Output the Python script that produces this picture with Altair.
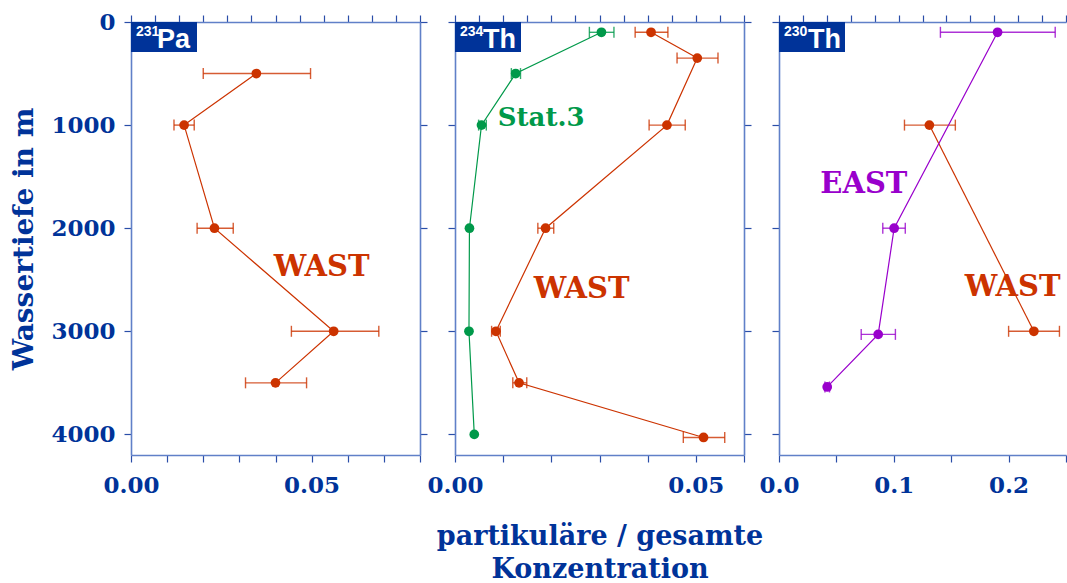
import altair as alt
import pandas as pd

RED = "#cc3300"
GREEN = "#00994a"
PURPLE = "#9900cc"
BLUE = "#003399"
AXLINE = "#6080c8"
TICK = "#2a4ea8"
SERIF = "DejaVu Serif"
SANS = "Liberation Sans"

# ---------------- data ----------------
# 231Pa, WAST
pa_w_depth = [500, 1000, 2000, 3000, 3500]
pa_w_val = [0.0347, 0.0147, 0.0231, 0.0561, 0.0400]
pa_w_lo = [0.0200, 0.0119, 0.0183, 0.0444, 0.0317]
pa_w_hi = [0.0497, 0.0175, 0.0283, 0.0686, 0.0486]

# 234Th, Stat.3
th4_s_depth = [100, 500, 1000, 2000, 3000, 4000]
th4_s_val = [0.0304, 0.0126, 0.0055, 0.0030, 0.0029, 0.0040]
th4_s_lo = [0.0279, 0.0117, 0.0049, None, None, None]
th4_s_hi = [0.0330, 0.0136, 0.0065, None, None, None]

# 234Th, WAST
th4_w_depth = [100, 350, 1000, 2000, 3000, 3500, 4030]
th4_w_val = [0.0407, 0.0503, 0.0440, 0.0188, 0.0085, 0.0133, 0.0516]
th4_w_lo = [0.0374, 0.0461, 0.0403, 0.0172, 0.0076, 0.0120, 0.0474]
th4_w_hi = [0.0442, 0.0546, 0.0478, 0.0205, 0.0094, 0.0149, 0.0560]

# 230Th, EAST
th0_e_depth = [100, 2000, 3030, 3540]
th0_e_val = [0.1904, 0.1003, 0.0864, 0.0420]
th0_e_lo = [0.1406, 0.0904, 0.0716, 0.0400]
th0_e_hi = [0.2406, 0.1100, 0.1014, 0.0440]

# 230Th, WAST
th0_w_depth = [1000, 3000]
th0_w_val = [0.131, 0.222]
th0_w_lo = [0.1093, 0.2000]
th0_w_hi = [0.1536, 0.2443]

depth_ticks = [0, 1000, 2000, 3000, 4000]
x1_ticks = [0.0, 0.01, 0.02, 0.03, 0.04, 0.05, 0.06, 0.07, 0.08]
x2_ticks = [0.0, 0.01, 0.02, 0.03, 0.04, 0.05, 0.06]
x3_ticks = [0.0, 0.05, 0.10, 0.15, 0.20, 0.25]

Y_TITLE = "Wassertiefe in m"
X_TITLE = ["partikuläre / gesamte", "Konzentration"]

PW, PH = 289, 433

yscale = alt.Scale(domain=[0, 4200], reverse=True, nice=False, zero=False)


def sdf(depth, val, lo, hi):
    return pd.DataFrame({"depth": depth, "val": val, "lo": lo, "hi": hi,
                         "idx": list(range(len(depth)))})


def series_layers(df, color, xscale):
    base = alt.Chart(df)
    y = alt.Y("depth:Q", scale=yscale, axis=None)
    line = base.mark_line(color=color, strokeWidth=1.2).encode(
        x=alt.X("val:Q", scale=xscale, axis=None), y=y, order="idx:Q")
    rule = base.mark_rule(color=color, strokeWidth=1.4, opacity=0.8).encode(
        x=alt.X("lo:Q", scale=xscale, axis=None), x2="hi:Q", y=y)
    caps = base.transform_fold(["lo", "hi"], as_=["end", "xe"]).mark_tick(
        color=color, orient="vertical", size=11, thickness=1.4, opacity=0.8
    ).encode(x=alt.X("xe:Q", scale=xscale, axis=None), y=y)
    pts = base.mark_circle(color=color, size=95, opacity=1).encode(
        x=alt.X("val:Q", scale=xscale, axis=None), y=y)
    return [line, rule, caps, pts]


def axis_common():
    return dict(grid=False, domainColor=AXLINE, domainWidth=1.6, tickColor=TICK,
                tickWidth=1.2, tickSize=7, labelFlush=False, labelOverlap=False)


def axis_layers(xscale, xdom, xticks, label_expr, first, last, x_title):
    d = pd.DataFrame({"x": [xdom[0]], "y": [0]})
    top_vals = [xdom[0] + (xdom[1] - xdom[0]) * i / 12 for i in range(13)]
    bottom_kwargs = dict(orient="bottom", values=xticks, labelExpr=label_expr,
                         labelFont=SERIF, labelFontWeight="bold", labelFontSize=23,
                         labelColor=BLUE, labelPadding=12, **axis_common())
    if x_title is not None:
        bottom_kwargs.update(title=x_title, titleFont=SERIF, titleFontWeight="bold",
                             titleFontSize=27, titleColor=BLUE, titlePadding=26,
                             titleLineHeight=33)
    else:
        bottom_kwargs.update(title=None)
    left_kwargs = dict(orient="left", values=depth_ticks, **axis_common())
    if first:
        left_kwargs.update(labels=True, format="d", labelFont=SERIF,
                           labelFontWeight="bold", labelFontSize=23, labelColor=BLUE,
                           labelPadding=9, title=Y_TITLE, titleFont=SERIF,
                           titleFontWeight="bold", titleFontSize=28, titleColor=BLUE,
                           titlePadding=12)
    else:
        left_kwargs.update(labels=False, title=None)
    a = alt.Chart(d).mark_point(opacity=0).encode(
        x=alt.X("x:Q", scale=xscale, axis=alt.Axis(**bottom_kwargs)),
        y=alt.Y("y:Q", scale=yscale, axis=alt.Axis(**left_kwargs)),
    )
    top_axis = alt.Axis(orient="top", values=top_vals, labels=False, title=None,
                        **axis_common())
    if last:
        right_axis = None
    else:
        right_axis = alt.Axis(orient="right", values=depth_ticks, labels=False,
                              title=None, **axis_common())
    b = alt.Chart(d).mark_point(opacity=0).encode(
        x=alt.X("x:Q", scale=xscale, axis=top_axis),
        y=alt.Y("y:Q", scale=yscale, axis=right_axis),
    )
    return [a, b]


def tag_layers(num, sym, sym_x):
    d = pd.DataFrame({"k": [0]})
    box = alt.Chart(d).mark_rect(color=BLUE).encode(
        x=alt.value(0), x2=alt.value(66), y=alt.value(0), y2=alt.value(30))
    t1 = alt.Chart(d).mark_text(text=num, font=SANS, fontWeight="bold", fontSize=14,
                                color="white", align="left", baseline="alphabetic").encode(
        x=alt.value(5), y=alt.value(14))
    t2 = alt.Chart(d).mark_text(text=sym, font=SANS, fontWeight="bold", fontSize=27,
                                color="white", align="left", baseline="alphabetic").encode(
        x=alt.value(sym_x), y=alt.value(26))
    return [box, t1, t2]


def label(text, color, x, y, xscale, size=29):
    d = pd.DataFrame({"k": [0]})
    return alt.Chart(d).mark_text(text=text, font=SERIF, fontWeight="bold",
                                  fontSize=size, color=color, align="center",
                                  baseline="middle").encode(
        x=alt.XDatum(x, scale=xscale, axis=None, type="quantitative"),
        y=alt.YDatum(y, scale=yscale, axis=None, type="quantitative"))


# ---------------- panel 1: 231Pa ----------------
x1dom = [0, 0.08]
xs1 = alt.Scale(domain=x1dom, nice=False, zero=False)
expr2 = "round(datum.value*100) % 5 == 0 ? format(datum.value, '.2f') : ''"
expr1 = "round(datum.value*100) % 10 == 0 ? format(datum.value, '.1f') : ''"

p1 = alt.layer(
    *axis_layers(xs1, x1dom, x1_ticks, expr2, True, False, None),
    *series_layers(sdf(pa_w_depth, pa_w_val, pa_w_lo, pa_w_hi), RED, xs1),
    label("WAST", RED, 0.0528, 2380, xs1),
    *tag_layers("231", "Pa", 26),
).resolve_axis(x="independent", y="independent").properties(width=PW, height=PH)

# ---------------- panel 2: 234Th ----------------
x2dom = [0, 0.06]
xs2 = alt.Scale(domain=x2dom, nice=False, zero=False)
p2 = alt.layer(
    *axis_layers(xs2, x2dom, x2_ticks, expr2, False, False, X_TITLE),
    *series_layers(sdf(th4_s_depth, th4_s_val, th4_s_lo, th4_s_hi), GREEN, xs2),
    *series_layers(sdf(th4_w_depth, th4_w_val, th4_w_lo, th4_w_hi), RED, xs2),
    label("Stat.3", GREEN, 0.0179, 930, xs2, size=26),
    label("WAST", RED, 0.0263, 2590, xs2),
    *tag_layers("234", "Th", 28),
).resolve_axis(x="independent", y="independent").properties(width=PW, height=PH)

# ---------------- panel 3: 230Th ----------------
x3dom = [0, 0.25]
xs3 = alt.Scale(domain=x3dom, nice=False, zero=False)
p3 = alt.layer(
    *axis_layers(xs3, x3dom, x3_ticks, expr1, False, True, None),
    *series_layers(sdf(th0_w_depth, th0_w_val, th0_w_lo, th0_w_hi), RED, xs3),
    *series_layers(sdf(th0_e_depth, th0_e_val, th0_e_lo, th0_e_hi), PURPLE, xs3),
    label("EAST", PURPLE, 0.0739, 1570, xs3),
    label("WAST", RED, 0.2035, 2570, xs3),
    *tag_layers("230", "Th", 29),
).resolve_axis(x="independent", y="independent").properties(width=287, height=PH)

chart = alt.hconcat(p1, p2, p3, spacing=35, bounds="flush").properties(
    padding={"left": 10, "top": 11, "right": 0, "bottom": 0}
).configure_view(stroke=None)

chart.save("out.html", embed_options={"renderer": "svg", "actions": False})
